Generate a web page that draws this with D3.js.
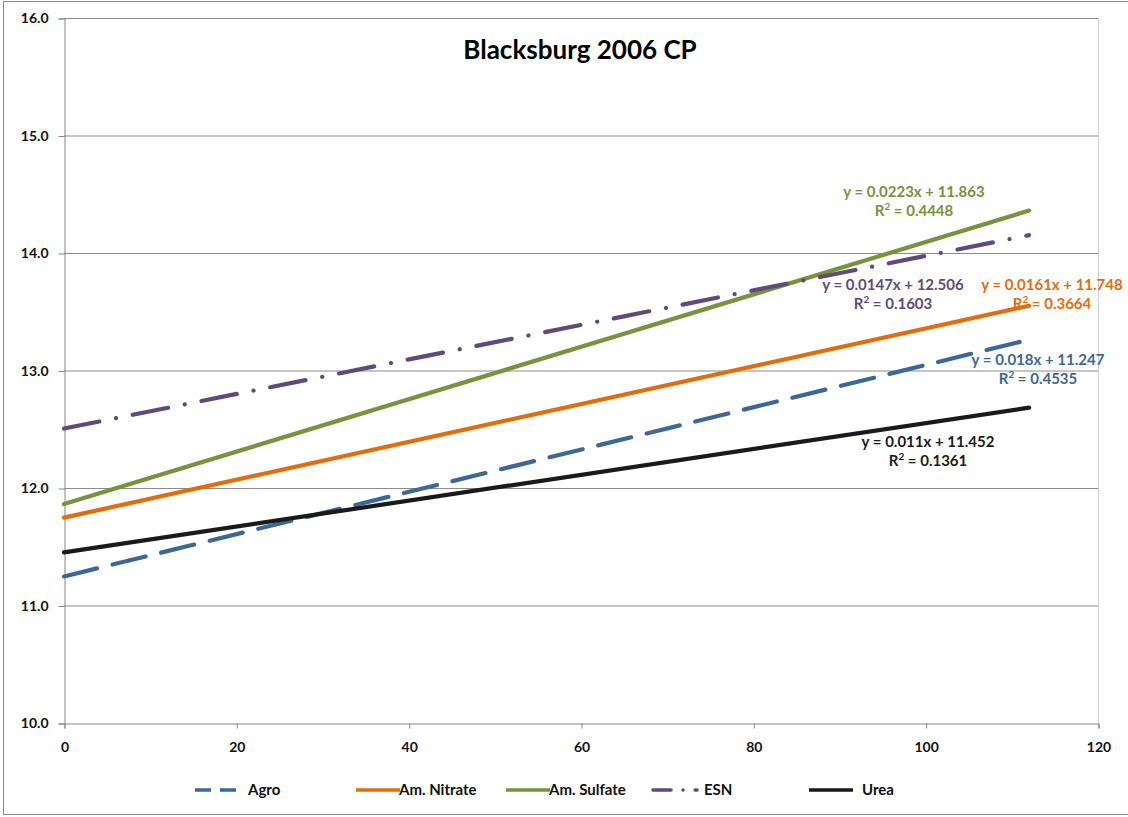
<!DOCTYPE html>
<html><head><meta charset="utf-8">
<script src="https://cdn.jsdelivr.net/npm/d3@7"></script>
<style>body{margin:0;background:#fff}svg{display:block}text{font-family:Lato,"Open Sans",sans-serif}</style>
</head><body><svg id="c" width="1128" height="817"></svg>
<script>
// Data
const title = "Blacksburg 2006 CP";
const seriesNames = ["Agro", "Am. Nitrate", "Am. Sulfate", "ESN", "Urea"];
const xValues = [0, 112];
const agroValues = [11.247, 13.263];
const nitrateValues = [11.748, 13.551];
const sulfateValues = [11.863, 14.361];
const esnValues = [12.506, 14.152];
const ureaValues = [11.452, 12.684];
const equations = ["y = 0.018x + 11.247", "y = 0.0161x + 11.748", "y = 0.0223x + 11.863", "y = 0.0147x + 12.506", "y = 0.011x + 11.452"];
const rSquared = ["0.4535", "0.3664", "0.4448", "0.1603", "0.1361"];
const xTicks = [0, 20, 40, 60, 80, 100, 120];
const yTicks = [10, 11, 12, 13, 14, 15, 16];

const colors = ["#3b6896", "#e46c0a", "#77933c", "#5f4a7b", "#1a1a1a"];
const dashes = ["34,16", null, null, "36,17,0.1,17", null];
const allValues = [agroValues, nitrateValues, sulfateValues, esnValues, ureaValues];
// label centers (pixel layout)
const labelPos = [[1038, 360], [1052, 285], [914, 192], [893, 285], [928, 442]];

const svg = d3.select("#c");
svg.append("rect").attr("x", 3.5).attr("y", 1.5).attr("width", 1130).attr("height", 813).attr("fill", "#fff").attr("stroke", "#8a8a8a");

const x = d3.scaleLinear().domain([0, 120]).range([64, 1098]);
const y = d3.scaleLinear().domain([10, 16]).range([723, 18]);

// gridlines
svg.append("g").selectAll("line").data(yTicks.slice(1)).join("line")
  .attr("x1", x(0)).attr("x2", x(120)).attr("y1", d => y(d) + 0.5).attr("y2", d => y(d) + 0.5)
  .attr("stroke", "#8c8c8c").attr("stroke-width", 1);
svg.append("line").attr("x1", x(120) + 0.5).attr("x2", x(120) + 0.5).attr("y1", y(16)).attr("y2", y(10))
  .attr("stroke", "#d0d0d0");

const yAxis = svg.append("g").attr("transform", `translate(${x(0) + 0.5},0.5)`)
  .call(d3.axisLeft(y).tickValues(yTicks).tickFormat(d3.format(".1f")).tickSize(6).tickPadding(10));
const xAxis = svg.append("g").attr("transform", `translate(0.5,${y(10) + 0.5})`)
  .call(d3.axisBottom(x).tickValues(xTicks).tickSize(5).tickPadding(14));
[yAxis, xAxis].forEach(a => {
  a.select(".domain").attr("stroke", "#868686");
  a.selectAll(".tick line").attr("stroke", "#868686");
  a.selectAll("text").attr("font-size", 14).attr("font-weight", "bold").attr("fill", "#111")
    .attr("font-family", "Lato,sans-serif");
});

// lines
const line = d3.line().x((d, i) => x(xValues[i])).y(d => y(d));
allValues.forEach((vals, i) => {
  svg.append("path").datum(vals).attr("d", line).attr("fill", "none")
    .attr("stroke", colors[i]).attr("stroke-width", 4.2)
    .attr("stroke-linecap", "round")
    .attr("stroke-dasharray", dashes[i]);
});

// equation labels
allValues.forEach((vals, i) => {
  const g = svg.append("text").attr("text-anchor", "middle").attr("fill", colors[i])
    .attr("font-size", 15).attr("font-weight", "bold");
  g.append("tspan").attr("x", labelPos[i][0]).attr("y", labelPos[i][1] + 5).text(equations[i]);
  const t2 = g.append("tspan").attr("x", labelPos[i][0]).attr("y", labelPos[i][1] + 24);
  t2.text("R");
  g.append("tspan").attr("dy", -6).attr("font-size", 10).text("2");
  g.append("tspan").attr("dy", 6).text(" = " + rSquared[i]);
});

// title
svg.append("text").attr("x", 580).attr("y", 59).attr("text-anchor", "middle")
  .attr("font-size", 26).attr("font-weight", "bold").attr("fill", "#000").text(title);

// legend
const legendX = [195, 356, 506, 653, 809];
seriesNames.forEach((n, i) => {
  svg.append("line").attr("x1", legendX[i]).attr("x2", legendX[i] + 44).attr("y1", 790).attr("y2", 790)
    .attr("stroke", colors[i]).attr("stroke-width", 3.5)
    .attr("stroke-dasharray", i === 0 ? "16,9" : (i === 3 ? "18,12,0.1,12" : null))
    .attr("stroke-linecap", i === 3 ? "round" : "butt");
  svg.append("text").attr("x", legendX[i] + (i === 0 || i === 4 ? 53 : (i === 3 ? 51 : 43))).attr("y", 795)
    .attr("font-size", 15).attr("font-weight", "bold").attr("fill", "#111").text(n);
});
</script></body></html>
